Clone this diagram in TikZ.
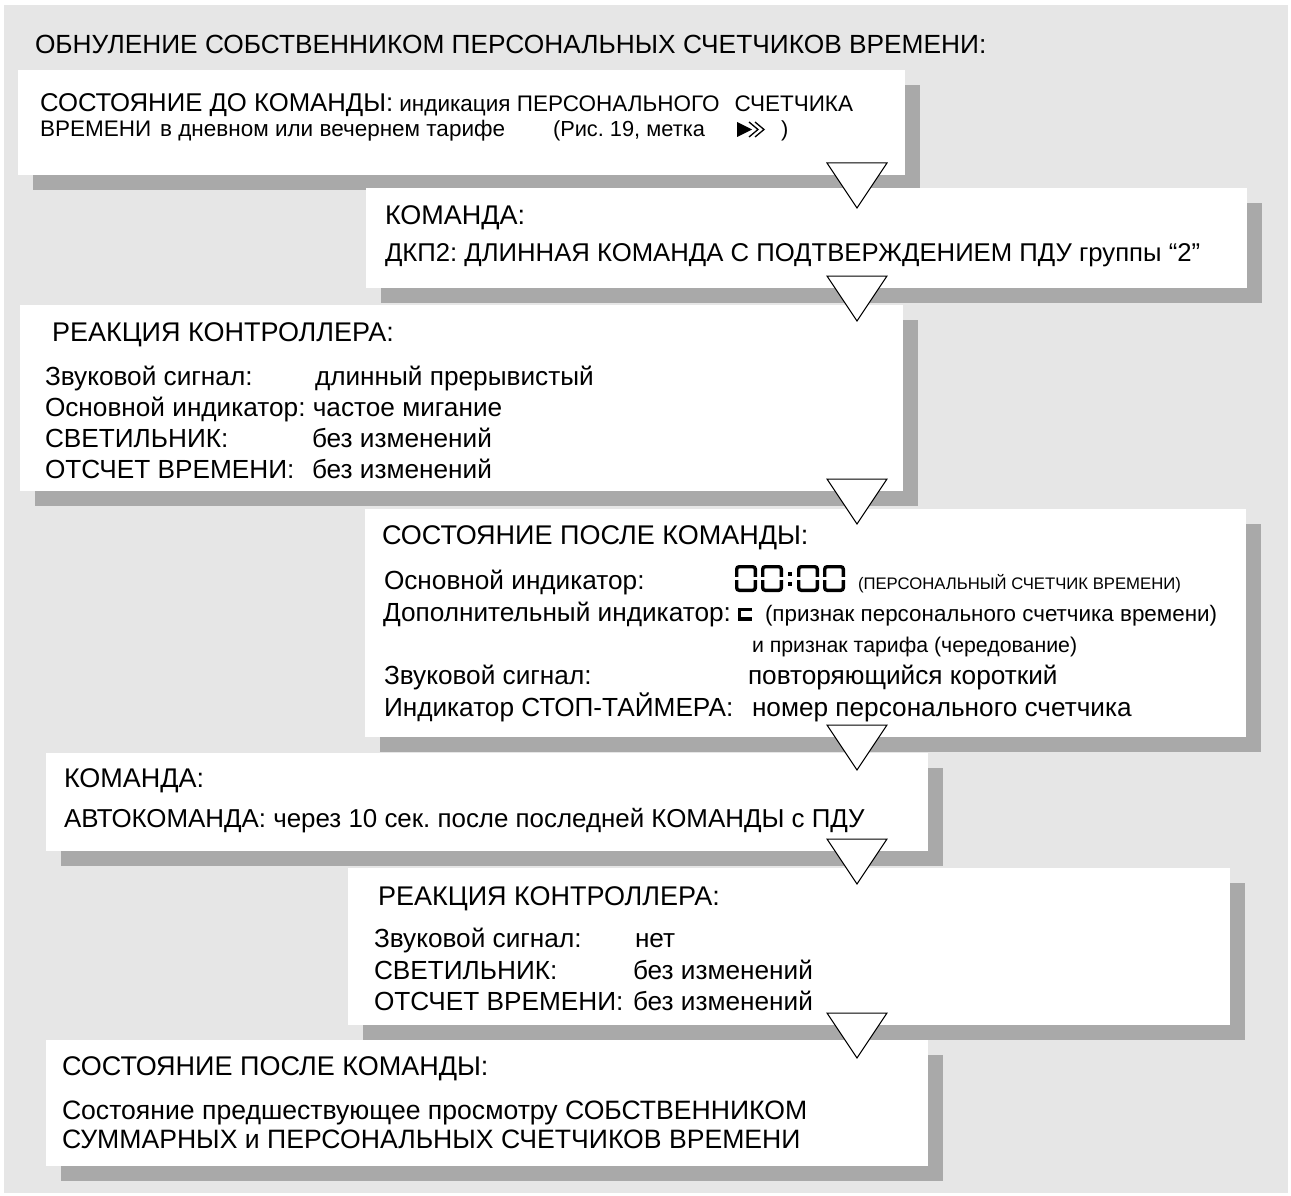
\documentclass[tikz,border=0pt]{standalone}
\usepackage{fontspec}
\setmainfont{Liberation Sans}
\usetikzlibrary{shadows}
\frenchspacing
\definecolor{bggray}{HTML}{E6E6E6}
\definecolor{shdgray}{HTML}{A9A9A9}
\newcommand\fsz[1]{\fontsize{#1}{#1}\selectfont}
\newcommand\segzero[4]{% x, top, bottom, width
  \draw[seg] (#1+1.7,{(#2+#3)/2-1.6}) -- (#1+1.7,#2+1.7) -- (#1+#4-1.7,#2+1.7) -- (#1+#4-1.7,{(#2+#3)/2-1.6});
  \draw[seg] (#1+1.7,{(#2+#3)/2+1.6}) -- (#1+1.7,#3-1.7) -- (#1+#4-1.7,#3-1.7) -- (#1+#4-1.7,{(#2+#3)/2+1.6});
}
\tikzset{
  panel/.style={anchor=north west, fill=white, inner sep=0pt, outer sep=0pt, draw=none,
     general shadow={fill=shdgray, shadow xshift=15pt, shadow yshift=-15pt}},
  txt/.style={anchor=base west, inner sep=0pt, outer sep=0pt, font=\fsz{26.2}},
  headtxt/.style={txt, font=\fsz{27}},
  smalltxt/.style={txt, font=\fsz{22.5}},
  flowtri/.style={draw=black, fill=white, line width=1pt, line join=miter},
  seg/.style={line width=3.4pt, line cap=butt, rounded corners=2.5pt},
}
\begin{document}
\begin{tikzpicture}[x=1pt,y=-1pt]
\useasboundingbox (0,0) rectangle (1291,1196);
\fill[white] (0,0) rectangle (1291,1196);
\fill[bggray] (4,5) rectangle (1288,1193);

% panels
\node[panel, minimum width=887pt, minimum height=105pt] (b1) at (18,70) {};
\node[panel, minimum width=881pt, minimum height=100pt] (b2) at (366,188) {};
\node[panel, minimum width=883pt, minimum height=186pt] (b3) at (20,305) {};
\node[panel, minimum width=881pt, minimum height=228pt] (b4) at (365,509) {};
\node[panel, minimum width=882pt, minimum height=98pt] (b5) at (46,753) {};
\node[panel, minimum width=882pt, minimum height=157pt] (b6) at (348,868) {};
\node[panel, minimum width=882pt, minimum height=126pt] (b7) at (46,1040) {};

% title
\node[txt, font=\fsz{26.3}] (title) at (35,54) {ОБНУЛЕНИЕ СОБСТВЕННИКОМ ПЕРСОНАЛЬНЫХ СЧЕТЧИКОВ ВРЕМЕНИ:};

% box 1
\node[smalltxt] (b1h) at (40,112) {{\fsz{25.7}СОСТОЯНИЕ ДО КОМАНДЫ:} индикация ПЕРСОНАЛЬНОГО\hspace{15pt}СЧЕТЧИКА};
\node[smalltxt] (b1c) at (40,137) {ВРЕМЕНИ\hspace{9pt}в дневном или вечернем тарифе};
\node[smalltxt, font=\fsz{21.8}] (b1e) at (553,137) {(Рис. 19, метка};
\node[smalltxt, font=\fsz{21.8}] (b1f) at (781,137) {)};
\fill (737,122) -- (752,129.5) -- (737,137) -- cycle;
\draw[line width=1.3pt] (749,122) -- (758,129.5) -- (749,137);
\draw[line width=1.3pt] (755,122) -- (764,129.5) -- (755,137);

% box 2
\node[headtxt] (b2h) at (385,224) {КОМАНДА:};
\node[txt, font=\fsz{25.7}] (b2a) at (385,261) {ДКП2: ДЛИННАЯ КОМАНДА С ПОДТВЕРЖДЕНИЕМ ПДУ группы “2”};

% box 3
\node[headtxt] (b3h) at (52,341) {РЕАКЦИЯ КОНТРОЛЛЕРА:};
\node[txt] (b3l1) at (45,385) {Звуковой сигнал:};
\node[txt] (b3v1) at (315,385) {длинный прерывистый};
\node[txt] (b3l2) at (45,416) {Основной индикатор: частое мигание};
\node[txt] (b3l3) at (45,447) {СВЕТИЛЬНИК:};
\node[txt] (b3v3) at (312,447) {без изменений};
\node[txt] (b3l4) at (45,478) {ОТСЧЕТ ВРЕМЕНИ:};
\node[txt] (b3v4) at (312,478) {без изменений};

% box 4
\node[headtxt] (b4h) at (382,544) {СОСТОЯНИЕ ПОСЛЕ КОМАНДЫ:};
\node[txt] (b4l1) at (384,589) {Основной индикатор:};
\segzero{735}{565}{592}{22}
\segzero{761}{565}{592}{22}
\fill (788,572) rectangle (791.6,575.6);
\fill (788,582) rectangle (791.6,585.6);
\segzero{797}{565}{592}{22}
\segzero{823}{565}{592}{22}
\node[txt, font=\fsz{16.7}] (b4v1) at (858,589) {(ПЕРСОНАЛЬНЫЙ СЧЕТЧИК ВРЕМЕНИ)};
\node[txt] (b4l2) at (383,621) {Дополнительный индикатор:};
\draw[line width=3.6pt] (752,609.3) -- (739.3,609.3) -- (739.3,619.2) -- (752,619.2);
\node[txt, font=\fsz{22.4}] (b4v2) at (765,621) {(признак персонального счетчика времени)};
\node[txt, font=\fsz{21.3}] (b4v2b) at (752,652) {и признак тарифа (чередование)};
\node[txt] (b4l3) at (384,684) {Звуковой сигнал:};
\node[txt] (b4v3) at (748,684) {повторяющийся короткий};
\node[txt] (b4l4) at (384,716) {Индикатор СТОП-ТАЙМЕРА:};
\node[txt] (b4v4) at (752,716) {номер персонального счетчика};

% box 5
\node[headtxt] (b5h) at (64,787) {КОМАНДА:};
\node[txt, font=\fsz{25.9}] (b5a) at (64,827) {АВТОКОМАНДА: через 10 сек. после последней КОМАНДЫ с ПДУ};

% box 6
\node[headtxt] (b6h) at (378,905) {РЕАКЦИЯ КОНТРОЛЛЕРА:};
\node[txt] (b6l1) at (374,947) {Звуковой сигнал:};
\node[txt] (b6v1) at (635,947) {нет};
\node[txt] (b6l2) at (374,979) {СВЕТИЛЬНИК:};
\node[txt] (b6v2) at (633,979) {без изменений};
\node[txt] (b6l3) at (374,1010) {ОТСЧЕТ ВРЕМЕНИ:};
\node[txt] (b6v3) at (633,1010) {без изменений};

% box 7
\node[headtxt] (b7h) at (62,1075) {СОСТОЯНИЕ ПОСЛЕ КОМАНДЫ:};
\node[txt, font=\fsz{26.6}] (b7a) at (62,1119) {Состояние предшествующее просмотру СОБСТВЕННИКОМ};
\node[txt, font=\fsz{26.6}] (b7b) at (62,1148) {СУММАРНЫХ и ПЕРСОНАЛЬНЫХ СЧЕТЧИКОВ ВРЕМЕНИ};

% flow triangles
\coordinate (axis) at (857,0);
\foreach \b in {b1,b2,b3,b4,b5,b6}{
  \coordinate (t\b) at (\b.south -| axis);
  \draw[flowtri] ([shift={(-30,-12)}]t\b) -- ++(60,0) -- ++(-30,45) -- cycle;
}
\end{tikzpicture}
\end{document}
